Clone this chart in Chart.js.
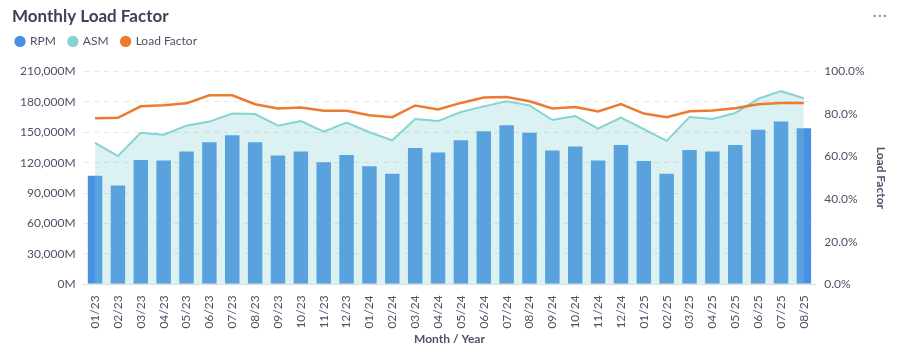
<!DOCTYPE html>
<html>
<head>
<meta charset="utf-8">
<script src="https://cdn.jsdelivr.net/npm/chart.js@4"></script>
<style>
  html, body { margin: 0; padding: 0; background: #fff; }
  #wrap { position: relative; width: 906px; height: 358px; }
  #more { position: absolute; right: 18px; top: 4px; font: 16px Lato, sans-serif; color: #8a8f9e; letter-spacing: 1px; }
</style>
</head>
<body>
<div id="wrap">
  <canvas id="loadFactorChart" width="906" height="358"></canvas>
  <span id="more">···</span>
</div>
<script>
'use strict';

// month labels
const months = [
  '01/23', '02/23', '03/23', '04/23', '05/23', '06/23', '07/23', '08/23', '09/23', '10/23', '11/23', '12/23',
  '01/24', '02/24', '03/24', '04/24', '05/24', '06/24', '07/24', '08/24', '09/24', '10/24', '11/24', '12/24',
  '01/25', '02/25', '03/25', '04/25', '05/25', '06/25', '07/25', '08/25'
];

// revenue passenger miles (millions)
const rpm = [
  108000, 98500, 123500, 123000, 132000, 141000, 148000, 141000, 128000, 132000, 121500, 128500,
  117500, 110000, 135500, 131000, 143000, 152000, 158000, 150500, 133000, 137000, 123000, 138500,
  122500, 110000, 133500, 132000, 138500, 153500, 161500, 155000
];

// available seat miles (millions)
const asm = [
  139500, 126500, 149500, 147500, 156500, 160500, 168500, 168000, 156500, 161000, 150500, 159500,
  150000, 142000, 163000, 161000, 170000, 175500, 180500, 176500, 162000, 166000, 153500, 164500,
  153000, 141500, 165000, 163000, 169000, 183000, 190500, 183500
];

// load factor (%)
const loadFactor = [
  78.0, 78.2, 83.6, 84.1, 85.0, 88.8, 88.8, 84.6, 82.6, 83.0, 81.5, 81.5,
  79.4, 78.5, 84.0, 82.1, 85.2, 87.7, 88.0, 86.0, 82.6, 83.3, 81.2, 84.7,
  80.2, 78.5, 81.3, 81.6, 82.7, 84.6, 85.2, 85.2
];

const textColor = '#4b5267';
const gridColor = '#e4e6ea';
const font = 'Lato, "Open Sans", sans-serif';

// extra room under the legend, and nudge it up/left
const legendSpacer = {
  id: 'legendSpacer',
  beforeInit(chart) {
    const legend = chart.legend;
    const origFit = legend.fit;
    legend.fit = function () {
      origFit.apply(this, arguments);
      this.height += 8;
    };
    const origDraw = legend.draw;
    legend.draw = function () {
      const c = this.ctx;
      c.save();
      c.translate(-9, -6);
      origDraw.apply(this, arguments);
      c.restore();
    };
  }
};

const ctx = document.getElementById('loadFactorChart').getContext('2d');
new Chart(ctx, {
  type: 'bar',
  data: {
    labels: months,
    datasets: [
      {
        label: 'RPM',
        type: 'bar',
        data: rpm,
        backgroundColor: '#4a90e2',
        borderColor: 'rgba(255,255,255,0.25)',
        borderWidth: 1,
        yAxisID: 'y',
        order: 3
      },
      {
        label: 'ASM',
        type: 'line',
        data: asm,
        borderColor: '#86d3d3',
        backgroundColor: 'rgba(129, 210, 210, 0.28)',
        borderWidth: 2,
        fill: 'origin',
        tension: 0,
        pointRadius: 0,
        yAxisID: 'y',
        order: 2
      },
      {
        label: 'Load Factor',
        type: 'line',
        data: loadFactor,
        borderColor: '#ec7a31',
        backgroundColor: '#ec7a31',
        borderWidth: 2.5,
        fill: false,
        tension: 0,
        pointRadius: 0,
        yAxisID: 'y1',
        order: 1
      }
    ]
  },
  plugins: [legendSpacer],
  options: {
    responsive: false,
    animation: false,
    layout: { padding: { left: 12, right: 18, top: 2, bottom: 12 } },
    plugins: {
      title: {
        display: true,
        text: 'Monthly Load Factor',
        align: 'start',
        color: '#3c4358',
        font: { family: font, size: 17, weight: 'bold' },
        padding: { top: 4, bottom: 2 }
      },
      legend: {
        display: true,
        align: 'start',
        labels: {
          usePointStyle: true,
          pointStyle: 'circle',
          boxWidth: 8,
          boxHeight: 8,
          padding: 13,
          color: textColor,
          font: { family: font, size: 12 },
          sort: (a, b) => a.datasetIndex - b.datasetIndex,
          generateLabels: function (chart) {
            const items = Chart.defaults.plugins.legend.labels.generateLabels(chart);
            items.forEach(function (item) {
              const ds = chart.data.datasets[item.datasetIndex];
              item.fillStyle = ds.type === 'line' ? ds.borderColor : ds.backgroundColor;
              item.strokeStyle = item.fillStyle;
              item.lineWidth = 0;
            });
            return items;
          }
        }
      },
      tooltip: { enabled: false }
    },
    scales: {
      x: {
        grid: { display: false },
        border: { display: true, color: '#dcdfe4' },
        ticks: {
          color: textColor,
          font: { family: font, size: 12 },
          maxRotation: 90,
          minRotation: 90,
          autoSkip: false
        },
        title: {
          display: true,
          text: 'Month / Year',
          color: textColor,
          font: { family: font, size: 12, weight: 'bold' },
          padding: { top: 0, bottom: 0 }
        }
      },
      y: {
        position: 'left',
        min: 0,
        max: 210000,
        grid: { color: gridColor, drawTicks: false },
        border: { display: false, dash: [5, 5] },
        ticks: {
          stepSize: 30000,
          padding: 8,
          color: textColor,
          font: { family: font, size: 12 },
          callback: value => value.toLocaleString('en-US') + 'M'
        }
      },
      y1: {
        position: 'right',
        min: 0,
        max: 100,
        grid: { drawOnChartArea: false, drawTicks: false },
        border: { display: false },
        ticks: {
          stepSize: 20,
          padding: 9,
          color: textColor,
          font: { family: font, size: 12 },
          callback: value => value.toFixed(1) + '%'
        },
        title: {
          display: true,
          text: 'Load Factor',
          color: textColor,
          font: { family: font, size: 12, weight: 'bold' },
          padding: { top: 0, bottom: 0 }
        }
      }
    }
  }
});
</script>
</body>
</html>
